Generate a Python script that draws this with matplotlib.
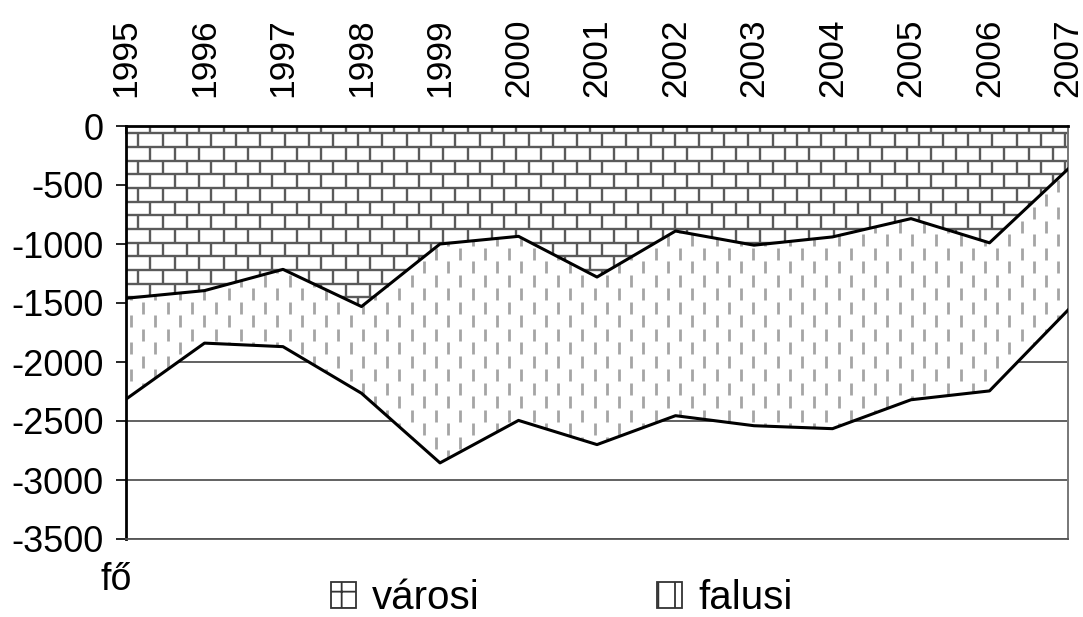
import matplotlib
matplotlib.use("Agg")
import matplotlib.pyplot as plt
import numpy as np
from matplotlib.collections import LineCollection
from matplotlib.patches import Patch

plt.rcParams['font.family'] = ['Liberation Sans', 'DejaVu Sans']
plt.rcParams['hatch.color'] = '#555555'
plt.rcParams['hatch.linewidth'] = 1.3

# data (fő)
years = [1995, 1996, 1997, 1998, 1999, 2000, 2001, 2002, 2003, 2004, 2005, 2006, 2007]
varosi = [-1460, -1395, -1215, -1530, -1000, -935, -1280, -890, -1010, -940, -785, -990, -365]
falusi = [-855, -445, -655, -735, -1855, -1560, -1420, -1565, -1530, -1625, -1535, -1255, -1195]
series_names = ['városi', 'falusi']
y_ticks = [0, -500, -1000, -1500, -2000, -2500, -3000, -3500]

W, H = 1083, 617
fig = plt.figure(figsize=(W / 100, H / 100), dpi=100)
ax = fig.add_axes([126 / W, 1 - 539 / H, 942 / W, 413 / H])

x = np.array(years, dtype=float)
polys = ax.stackplot(x, varosi, falusi, colors=['white', 'white'],
                     edgecolor='none', zorder=1)
lower1 = np.array(varosi)
lower2 = lower1 + np.array(falusi)

ax.set_xlim(years[0], years[-1])
ax.set_ylim(-3500, 0)

# pixel -> data helpers for the fill textures
ppx = (years[-1] - years[0]) / 942.0
ppy = 3500 / 413.0

def brick_segments(row_h=13.67, brick_w=24.4):
  segs = []
  rh = row_h * ppy
  bw = brick_w * ppx
  y0 = -7.3 * ppy
  k = 0
  y = y0
  while y > -3600:
    segs.append([(years[0] - 1, y), (years[-1] + 1, y)])
    off = 0 if k % 2 == 0 else bw / 2
    xx = years[0] - bw + off
    while xx < years[-1] + bw:
      segs.append([(xx, y), (xx, y + rh)])
      xx += bw
    y -= rh
    k += 1
  return segs

def dash_segments(col_w=12.2, period=27.0, dash=12.0):
  segs = []
  cw = col_w * ppx
  pr = period * ppy
  dl = dash * ppy
  c = 0
  xx = years[0] + 5 * ppx
  while xx < years[-1] + cw:
    y = 0 - (pr / 2 if c % 2 else 0)
    while y > -3600:
      segs.append([(xx, y), (xx, y - dl)])
      y -= pr
    xx += cw
    c += 1
  return segs

for poly, segs, col, lw in [(polys[0], brick_segments(), '#5a5a5a', 1.7),
                            (polys[1], dash_segments(), '#a5a5a5', 2.0)]:
  lc = LineCollection(segs, colors=col, linewidths=lw, zorder=1.5)
  ax.add_collection(lc)
  lc.set_clip_path(poly.get_paths()[0], ax.transData)

ax.plot(x, lower1, color='black', lw=2.2, zorder=3)
ax.plot(x, lower2, color='black', lw=2.2, zorder=3)

ax.set_yticks(y_ticks)
ax.set_yticklabels([str(v) for v in y_ticks])
ax.set_xticks(years)
ax.set_xticklabels([str(y) for y in years])
ax.xaxis.tick_top()
ax.tick_params(axis='x', direction='in', length=6, width=1.2, pad=21,
               labelrotation=90, labelsize=25.5, colors='black')
ax.tick_params(axis='y', direction='out', length=7, width=1.2, pad=9,
               labelsize=26)
ax.yaxis.grid(True, color='#555555', lw=1.3)
ax.set_axisbelow(True)

ax.spines['top'].set_color('black')
ax.spines['top'].set_linewidth(2.0)
ax.spines['left'].set_color('black')
ax.spines['left'].set_linewidth(2.0)
ax.spines['right'].set_color('#777777')
ax.spines['right'].set_linewidth(1.4)
ax.spines['bottom'].set_color('#555555')
ax.spines['bottom'].set_linewidth(1.3)

fig.text(116 / W, 1 - 580 / H, 'fő', ha='center', va='center', fontsize=27)

handles = [Patch(facecolor='white', edgecolor='#333333', hatch='+', lw=1.3),
           Patch(facecolor='white', edgecolor='#333333', hatch='|', lw=1.3)]
fig.legend(handles, series_names, loc='center', bbox_to_anchor=(562 / W, 1 - 598 / H),
           ncol=2, frameon=False, fontsize=29, handlelength=0.62, handleheight=0.62,
           handletextpad=0.4, columnspacing=4.4, borderpad=0)

fig.savefig('out.png', dpi=100, facecolor='white')
